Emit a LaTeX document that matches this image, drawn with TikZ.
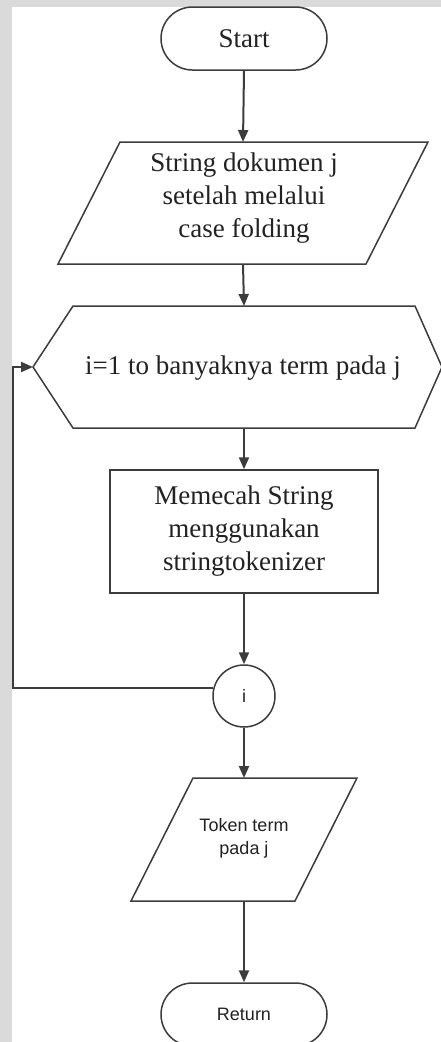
\documentclass[tikz,border=0pt]{standalone}
\usepackage{fontspec}
\setmainfont{Liberation Serif}
\newfontfamily\arialfont{Liberation Sans}
\usetikzlibrary{arrows.meta}
\definecolor{pagegray}{HTML}{DADADA}
\definecolor{ink}{HTML}{3C3C3C}
\definecolor{txt}{HTML}{222222}

\begin{document}
\begin{tikzpicture}[x=1pt,y=-1pt,
  outline/.style={draw=ink,line width=1.5pt,line join=miter},
  flow/.style={draw=ink,line width=2pt,-{Triangle[length=12pt,width=10pt]}},
  serif/.style={font=\fontsize{27}{33}\selectfont,text=txt,align=center},
  sans/.style={font=\arialfont\fontsize{18}{23}\selectfont,text=txt,align=center},
  frame/.style={inner sep=0pt,outer sep=0pt,draw=none},
  terminal/.style={outline,rounded corners=31.5pt,minimum width=166pt,minimum height=63pt,inner sep=0pt},
  process/.style={outline,minimum width=268pt,minimum height=123pt,inner sep=0pt},
  joint/.style={outline,circle,minimum size=62pt,inner sep=0pt}
]
% page background with grey margin strips
\fill[pagegray] (0,0) rectangle (441,1042);
\fill[white] (12,7) rectangle (441,1042);
\useasboundingbox (0,0) rectangle (441,1042);
\clip (0,0) rectangle (441,1042);

% start
\node[terminal,serif] (start) at (244,38.5) {Start};

% input: document string
\node[frame,minimum width=370pt,minimum height=122pt] (in) at (243,203) {};
\draw[outline] ([xshift=62pt]in.north west) -- (in.north east)
  -- ([xshift=-62pt]in.south east) -- (in.south west) -- cycle;
\node[serif] (intext) at (244,198) {String dokumen j\\setelah melalui\\case folding};

% loop header (hexagon)
\node[frame,minimum width=422pt,minimum height=122pt] (loop) at (244,367) {};
\draw[outline] (loop.west) -- ([xshift=40pt]loop.north west)
  -- ([xshift=-40pt]loop.north east) -- ([xshift=-13pt]loop.east)
  -- ([xshift=-40pt]loop.south east) -- ([xshift=40pt]loop.south west) -- cycle;
\node[serif] (looptext) at (243,368) {i=1 to banyaknya term pada j};

% process
\node[process,serif] (split) at (244,531.5) {Memecah String\\menggunakan\\stringtokenizer};

% loop connector
\node[joint,sans] (conn) at (244,696) {i};

% output: tokens
\node[frame,minimum width=226pt,minimum height=123pt] (out) at (244,839.5) {};
\draw[outline] ([xshift=62pt]out.north west) -- (out.north east)
  -- ([xshift=-62pt]out.south east) -- (out.south west) -- cycle;
\node[sans] (outtext) at (244,838.5) {Token term\\pada j};

% return
\node[terminal,sans] (ret) at (244,1014.5) {Return};

% connectors
\coordinate (rail) at (13,0);
\draw[flow] (start.south) -- (in.north);
\draw[flow] (in.south) -- (loop.north);
\draw[flow] (loop.south) -- (split.north);
\draw[flow] (split.south) -- (conn.north);
\draw[flow] (conn.165) -- (conn.165 -| rail) -- (rail |- loop.west) -- (loop.west);
\draw[flow] (conn.south) -- (out.north);
\draw[flow] (out.south) -- (ret.north);
\end{tikzpicture}
\end{document}
